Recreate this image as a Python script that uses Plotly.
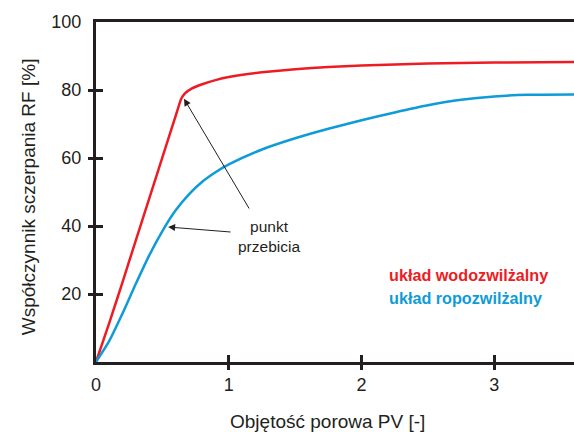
import plotly.graph_objects as go

# Recovery factor vs. injected pore volume for two wettability systems
pv_water = [0, 0.1, 0.2, 0.3, 0.4, 0.5, 0.6, 0.64, 0.67, 0.72, 0.8, 0.9,
            1.0, 1.25, 1.5, 1.75, 2.0, 2.5, 3.0, 3.6]
rf_water = [0, 11.5, 23.5, 35.8, 48, 60.2, 72.4, 77.3, 79.0, 80.4, 81.7, 82.9,
            83.8, 85.2, 86.1, 86.8, 87.2, 87.8, 88.1, 88.2]

pv_oil = [0, 0.1, 0.2, 0.3, 0.4, 0.5, 0.6, 0.7, 0.8, 0.9, 1.0, 1.25, 1.5,
          1.75, 2.0, 2.25, 2.5, 2.75, 3.0, 3.25, 3.6]
rf_oil = [0, 6.2, 14.3, 23, 31.3, 38.5, 44.6, 49.3, 53.0, 55.8, 58.1, 62.5,
          65.8, 68.6, 71.1, 73.4, 75.5, 77.1, 78.1, 78.6, 78.7]

x_ticks = [0, 1, 2, 3]
y_ticks = [20, 40, 60, 80, 100]

# breakthrough points marked by arrows
bt_water = (0.663, 77.4)
bt_oil = (0.543, 39.7)

RED = "#ed1c24"
BLUE = "#0f9bd7"
INK = "#231f20"
FONT = "Liberation Sans, Arial, sans-serif"

fig = go.Figure()
fig.add_trace(go.Scatter(x=pv_water, y=rf_water, mode="lines",
                         line=dict(color=RED, width=2.5, shape="spline", smoothing=0.3),
                         hoverinfo="skip"))
fig.add_trace(go.Scatter(x=pv_oil, y=rf_oil, mode="lines",
                         line=dict(color=BLUE, width=2.5, shape="spline", smoothing=0.6),
                         hoverinfo="skip"))
# empty trace that carries the overlay axes used for the outer tick halves
fig.add_trace(go.Scatter(x=[], y=[], xaxis="x2", yaxis="y2", hoverinfo="skip"))

axis_common = dict(showgrid=False, zeroline=False, linecolor=INK, linewidth=3,
                   tickcolor=INK, tickwidth=3, ticklen=7,
                   tickfont=dict(family=FONT, size=18, color=INK))

fig.update_layout(
    width=574, height=432,
    margin=dict(l=96, r=0, t=22, b=70),
    paper_bgcolor="white", plot_bgcolor="white",
    showlegend=False,
    xaxis=dict(range=[0, 3.6], tickvals=x_ticks, ticks="inside", showline=True,
               mirror=True, ticklabelstandoff=4, **axis_common),
    yaxis=dict(range=[0, 100], tickvals=y_ticks, ticks="inside", showline=True,
               ticklabelstandoff=8, **axis_common),
    xaxis2=dict(range=[0, 3.6], overlaying="x", anchor="y", side="bottom",
                tickvals=x_ticks[1:], ticks="outside", showticklabels=False,
                showline=False, showgrid=False, zeroline=False,
                tickcolor=INK, tickwidth=3, ticklen=7),
    yaxis2=dict(range=[0, 100], overlaying="y", anchor="x", side="left",
                tickvals=y_ticks[:-1], ticks="outside", showticklabels=False,
                showline=False, showgrid=False, zeroline=False,
                tickcolor=INK, tickwidth=3, ticklen=7),
)

annotations = [
    dict(text="Objętość porowa PV [-]", xref="paper", yref="paper",
         x=0.485, y=-0.175, xanchor="center", yanchor="middle", showarrow=False,
         font=dict(family=FONT, size=19, color=INK)),
    dict(text="Współczynnik sczerpania RF [%]", xref="paper", yref="paper",
         x=-0.142, y=0.485, xanchor="center", yanchor="middle", textangle=-90,
         showarrow=False, font=dict(family=FONT, size=19, color=INK)),
    dict(text="punkt<br>przebicia", xref="x", yref="y", x=1.30, y=37,
         showarrow=False, align="center",
         font=dict(family=FONT, size=15.5, color=INK)),
    dict(text="<b>układ wodozwilżalny</b>", xref="paper", yref="y",
         x=0.609, y=25.6, xanchor="left", showarrow=False,
         font=dict(family=FONT, size=16.2, color=RED)),
    dict(text="<b>układ ropozwilżalny</b>", xref="paper", yref="y",
         x=0.609, y=18.8, xanchor="left", showarrow=False,
         font=dict(family=FONT, size=16.2, color=BLUE)),
    dict(text="", x=bt_water[0], y=bt_water[1], xref="x", yref="y",
         ax=1.16, ay=44.7, axref="x", ayref="y", showarrow=True,
         arrowhead=2, arrowsize=1.4, arrowwidth=1, arrowcolor=INK),
    dict(text="", x=bt_oil[0], y=bt_oil[1], xref="x", yref="y",
         ax=1.025, ay=38.2, axref="x", ayref="y", showarrow=True,
         arrowhead=2, arrowsize=1.4, arrowwidth=1, arrowcolor=INK),
]
fig.update_layout(annotations=annotations)

fig.write_html("out.html")
